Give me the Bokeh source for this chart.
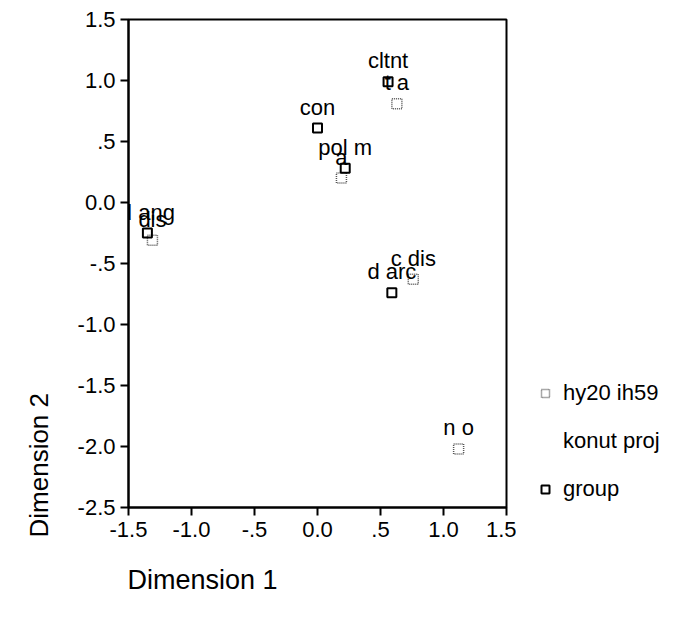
from bokeh.plotting import figure
from bokeh.layouts import row
from bokeh.models import (Range1d, FixedTicker, ColumnDataSource, LabelSet, Title,
                          Legend, LegendItem)
from bokeh.core.properties import value
from bokeh.embed import file_html
from bokeh.resources import INLINE

# ---- data ----
group_labels = ["d ang", "con", "cltnt", "pol m", "d arc"]
group_x = [-1.35, 0.00, 0.56, 0.22, 0.59]
group_y = [-0.25, 0.61, 0.99, 0.28, -0.74]

proj_labels = ["dis", "t a", "a", "c dis", "n o"]
proj_x = [-1.31, 0.63, 0.19, 0.76, 1.12]
proj_y = [-0.31, 0.81, 0.20, -0.63, -2.02]

x_ticks = [-1.5, -1.0, -0.5, 0.0, 0.5, 1.0, 1.5]
x_tick_labels = ["-1.5", "-1.0", "-.5", "0.0", ".5", "1.0", "1.5"]
y_ticks = [-2.5, -2.0, -1.5, -1.0, -0.5, 0.0, 0.5, 1.0, 1.5]
y_tick_labels = ["-2.5", "-2.0", "-1.5", "-1.0", "-.5", "0.0", ".5", "1.0", "1.5"]

legend_lines = ["hy20 ih59", "konut proj", "group"]
x_title = "Dimension 1"
y_title = "Dimension 2"
FONT = "Liberation Sans"
FS = "22px"
H = 618

PROJ_STYLE = dict(marker="square", fill_color=None, line_color="#555555",
                  line_width=1.5, line_dash="1 1")
GROUP_STYLE = dict(marker="square", fill_color=None, line_color="black", line_width=2)

p = figure(width=516, height=H, output_backend="svg", toolbar_location=None,
           x_range=Range1d(-1.5, 1.5), y_range=Range1d(-2.5, 1.5),
           min_border_left=124, min_border_right=10, min_border_top=19,
           min_border_bottom=H - 507)
p.grid.visible = False
p.outline_line_color = "black"
p.outline_line_width = 2
p.background_fill_color = "white"
p.border_fill_color = "white"

for ax, ticks, labels in ((p.xaxis[0], x_ticks, x_tick_labels), (p.yaxis[0], y_ticks, y_tick_labels)):
    ax.ticker = FixedTicker(ticks=ticks)
    ax.major_label_overrides = {t: l for t, l in zip(ticks, labels)}
    ax.minor_tick_line_color = None
    ax.major_tick_in = 0
    ax.major_tick_out = 8
    ax.major_tick_line_width = 2
    ax.axis_line_width = 2
    ax.axis_line_color = "black"
    ax.major_tick_line_color = "black"
    ax.major_label_text_font = FONT
    ax.major_label_text_font_size = FS
    ax.major_label_text_color = "black"
p.xaxis.major_label_standoff = 6
p.yaxis.major_label_standoff = 5

src_g = ColumnDataSource(dict(x=group_x, y=group_y, t=group_labels))
src_p = ColumnDataSource(dict(x=proj_x, y=proj_y, t=proj_labels))

p.scatter("x", "y", source=src_p, size=10, **PROJ_STYLE)
p.scatter("x", "y", source=src_g, size=9, **GROUP_STYLE)

for src in (src_g, src_p):
    p.add_layout(LabelSet(x="x", y="y", text="t", source=src, text_align="center",
                          text_baseline="middle", y_offset=21,
                          text_font=value(FONT), text_font_size=FS,
                          text_color="black"))

# axis titles as side-panel titles (left-aligned like the reference)
p.add_layout(Title(text=x_title, align="left", offset=-1, standoff=46,
                   text_font=FONT, text_font_size="27px", text_font_style="normal",
                   text_color="black"), "below")
p.add_layout(Title(text=y_title, align="left", offset=-30, standoff=42,
                   text_font=FONT, text_font_size="26px", text_font_style="normal",
                   text_color="black"), "left")

# ---- legend panel (separate canvas to the right of the plot) ----
# its ranges lie away from the data, so the series' points are clipped here and
# only their legend glyphs are drawn
q = figure(width=154, height=H, output_backend="svg", toolbar_location=None,
           x_axis_type=None, y_axis_type=None, min_border=0,
           x_range=Range1d(100, 101), y_range=Range1d(100, 101))
q.grid.visible = False
q.outline_line_color = None
q.background_fill_color = "white"
q.border_fill_color = "white"
lp = q.scatter("x", "y", source=src_p, size=10, **PROJ_STYLE)
lb = q.scatter(x=[], y=[], size=1, marker="square", fill_alpha=0, line_alpha=0)
lg = q.scatter("x", "y", source=src_g, size=9, **GROUP_STYLE)

leg = Legend(items=[LegendItem(label=legend_lines[0], renderers=[lp]),
                    LegendItem(label=legend_lines[1], renderers=[lb]),
                    LegendItem(label=legend_lines[2], renderers=[lg])],
             location=(19, 5))
leg.glyph_width = 20
leg.glyph_height = 20
leg.label_height = 24
leg.spacing = 22
leg.padding = 0
leg.margin = 0
leg.label_standoff = 8
leg.border_line_color = None
leg.background_fill_alpha = 0
leg.label_text_font = FONT
leg.label_text_font_size = FS
leg.label_text_color = "black"
q.add_layout(leg)

open("out.html", "w").write(file_html(row(p, q), INLINE))
